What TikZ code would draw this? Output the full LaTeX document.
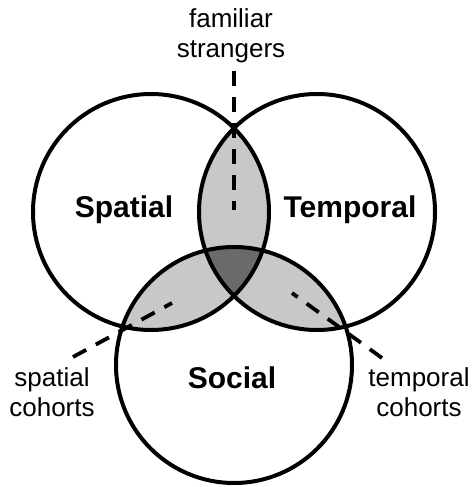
\documentclass[tikz,border=0pt]{standalone}
\usepackage{fontspec}
\setmainfont{Liberation Sans}
\usepackage{tikz}
\usetikzlibrary{positioning}

\definecolor{lensgray}{RGB}{200,200,200}
\definecolor{coregray}{RGB}{106,106,106}

\begin{document}
\begin{tikzpicture}[
        x=1pt, y=-1pt,
        setline/.style={draw=black, line width=4pt},
        leader/.style={draw=black, line width=3.8pt, dash pattern=on 15pt off 11pt},
        setname/.style={font=\fontsize{30}{34}\selectfont\bfseries, inner sep=0pt},
        overlap/.style={font=\fontsize{26}{30}\selectfont, align=center, inner sep=0pt}
        ]
        \useasboundingbox (0,0) rectangle (472,487);

        % Circle centres
        \coordinate (spc) at (151,212);
        \coordinate (tmc) at (317,212);
        \coordinate (soc) at (234,365);

        % Pairwise overlaps
        \begin{scope}
            \clip (spc) circle (118);
            \fill[lensgray] (tmc) circle (118);
            \fill[lensgray] (soc) circle (118);
        \end{scope}
        \begin{scope}
            \clip (tmc) circle (118);
            \fill[lensgray] (soc) circle (118);
        \end{scope}

        % Triple overlap
        \begin{scope}
            \clip (spc) circle (118);
            \clip (tmc) circle (118);
            \fill[coregray] (soc) circle (118);
        \end{scope}

        % Sets
        \draw[setline] (spc) circle (118);
        \draw[setline] (tmc) circle (118);
        \draw[setline] (soc) circle (118);

        \node (spatial) [setname] at (124,210) {Spatial};
        \node (temporal) [setname] at (350,210) {Temporal};
        \node (social) [setname] at (232,378) {Social};

        % Overlap labels
        \node (famstr) [overlap] at (231,36) {familiar\\strangers};
        \node (spco) [overlap] at (52,392) {spatial\\cohorts};
        \node (tmco) [overlap] at (419,392) {temporal\\cohorts};

        % Leader lines
        \coordinate (fs end) at (234,210);
        \coordinate (sc start) at (73,357);
        \coordinate (sc end) at (172,303);
        \coordinate (tc start) at (382,358);
        \coordinate (tc end) at (292,293);

        \draw[leader] ([yshift=-8pt]famstr.south -| fs end) -- (fs end);
        \draw[leader] (sc start) -- (sc end);
        \draw[leader] (tc start) -- (tc end);

    \end{tikzpicture}
\end{document}
